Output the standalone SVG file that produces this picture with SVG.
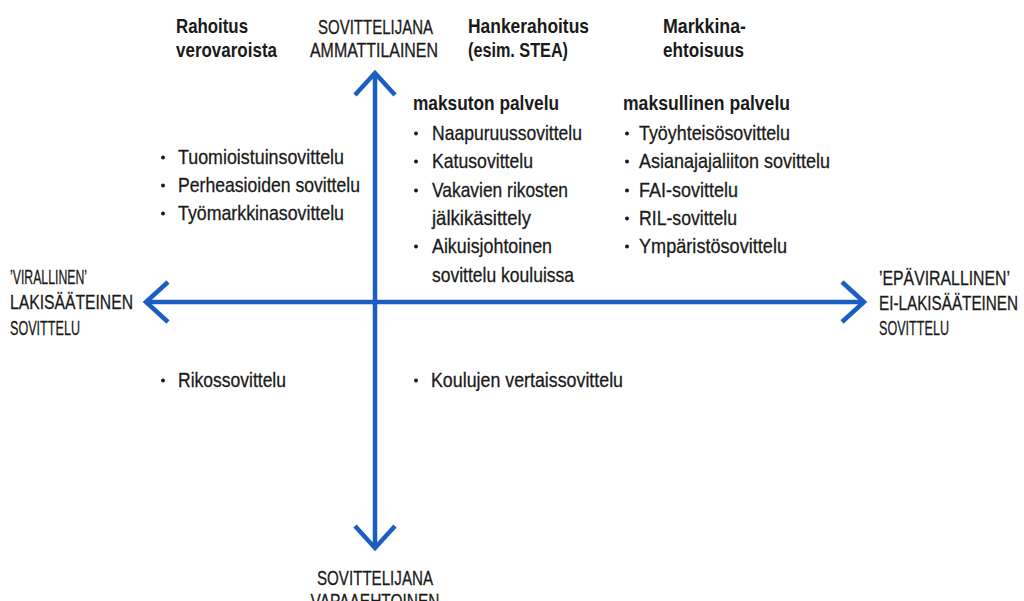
<svg xmlns="http://www.w3.org/2000/svg" width="1024" height="601" viewBox="0 0 1024 601">
<defs>
<style>
text{font-family:"Liberation Sans",Arial,sans-serif;font-size:21px;fill:#1a1a1a;stroke:#1a1a1a;stroke-width:0.3px}
.b{font-weight:bold;stroke-width:0}
.cap{font-size:20.5px}
.mid{text-anchor:middle}
.dot{fill:#1a1a1a}
.axis{stroke:#1B5EC2;stroke-width:4.5;fill:none}
</style>
<marker id="chev" markerUnits="userSpaceOnUse" viewBox="-30 -30 40 60" refX="0" refY="0" markerWidth="40" markerHeight="60" orient="auto-start-reverse">
<path d="M-22,-20 L0,0 L-22,20" fill="none" stroke="#1B5EC2" stroke-width="4.5" stroke-linejoin="miter"/>
</marker>
</defs>
<rect width="1024" height="601" fill="#ffffff"/>
<g id="connectors">
<line class="axis" x1="146" y1="302" x2="864" y2="302" marker-start="url(#chev)" marker-end="url(#chev)"/>
<line class="axis" x1="375" y1="73" x2="375" y2="548" marker-start="url(#chev)" marker-end="url(#chev)"/>
</g>
<g id="rahoitus-verovaroista">
<text class="b" x="176" y="33" textLength="72" lengthAdjust="spacingAndGlyphs">Rahoitus</text>
<text class="b" x="176" y="57" textLength="101" lengthAdjust="spacingAndGlyphs">verovaroista</text>
</g>
<g id="ammattilainen">
<text class="cap mid" x="375.5" y="34" textLength="115" lengthAdjust="spacingAndGlyphs">SOVITTELIJANA</text>
<text class="cap mid" x="374" y="57" textLength="128" lengthAdjust="spacingAndGlyphs">AMMATTILAINEN</text>
</g>
<g id="hankerahoitus">
<text class="b" x="468" y="33" textLength="121" lengthAdjust="spacingAndGlyphs">Hankerahoitus</text>
<text class="b" x="468" y="57" textLength="100" lengthAdjust="spacingAndGlyphs">(esim. STEA)</text>
</g>
<g id="markkinaehtoisuus">
<text class="b" x="663" y="33" textLength="83" lengthAdjust="spacingAndGlyphs">Markkina-</text>
<text class="b" x="663" y="57" textLength="81" lengthAdjust="spacingAndGlyphs">ehtoisuus</text>
</g>
<g id="virallinen">
<text class="cap" x="10" y="284" textLength="77" lengthAdjust="spacingAndGlyphs">’VIRALLINEN’</text>
<text class="cap" x="10" y="309" textLength="123" lengthAdjust="spacingAndGlyphs">LAKISÄÄTEINEN</text>
<text class="cap" x="10" y="335" textLength="70" lengthAdjust="spacingAndGlyphs">SOVITTELU</text>
</g>
<g id="epavirallinen">
<text class="cap" x="879" y="285" textLength="131" lengthAdjust="spacingAndGlyphs">’EPÄVIRALLINEN’</text>
<text class="cap" x="879" y="310" textLength="139" lengthAdjust="spacingAndGlyphs">EI-LAKISÄÄTEINEN</text>
<text class="cap" x="879" y="335" textLength="70" lengthAdjust="spacingAndGlyphs">SOVITTELU</text>
</g>
<g id="vapaaehtoinen">
<text class="cap mid" x="375" y="585" textLength="116" lengthAdjust="spacingAndGlyphs">SOVITTELIJANA</text>
<text class="cap mid" x="375" y="608" textLength="129" lengthAdjust="spacingAndGlyphs">VAPAAEHTOINEN</text>
</g>
<g id="virallinen-maksuton">
<circle class="dot" cx="163" cy="157.5" r="2"/>
<text x="178" y="164" textLength="166" lengthAdjust="spacingAndGlyphs">Tuomioistuinsovittelu</text>
<circle class="dot" cx="163" cy="185.5" r="2"/>
<text x="178" y="192" textLength="182" lengthAdjust="spacingAndGlyphs">Perheasioiden sovittelu</text>
<circle class="dot" cx="163" cy="213.5" r="2"/>
<text x="178" y="220" textLength="166" lengthAdjust="spacingAndGlyphs">Työmarkkinasovittelu</text>
</g>
<g id="maksuton-palvelu">
<text class="b" x="413" y="110" textLength="146" lengthAdjust="spacingAndGlyphs">maksuton palvelu</text>
<circle class="dot" cx="416" cy="133.5" r="2"/>
<text x="432" y="140" textLength="150" lengthAdjust="spacingAndGlyphs">Naapuruussovittelu</text>
<circle class="dot" cx="416" cy="161.5" r="2"/>
<text x="432" y="168" textLength="101" lengthAdjust="spacingAndGlyphs">Katusovittelu</text>
<circle class="dot" cx="416" cy="190.5" r="2"/>
<text x="432" y="197" textLength="136" lengthAdjust="spacingAndGlyphs">Vakavien rikosten</text>
<text x="432" y="225" textLength="99" lengthAdjust="spacingAndGlyphs">jälkikäsittely</text>
<circle class="dot" cx="416" cy="246.5" r="2"/>
<text x="432" y="253" textLength="120" lengthAdjust="spacingAndGlyphs">Aikuisjohtoinen</text>
<text x="432" y="282" textLength="142" lengthAdjust="spacingAndGlyphs">sovittelu kouluissa</text>
</g>
<g id="maksullinen-palvelu">
<text class="b" x="623" y="110" textLength="167" lengthAdjust="spacingAndGlyphs">maksullinen palvelu</text>
<circle class="dot" cx="627" cy="133.5" r="2"/>
<text x="639" y="140" textLength="151" lengthAdjust="spacingAndGlyphs">Työyhteisösovittelu</text>
<circle class="dot" cx="627" cy="161.5" r="2"/>
<text x="639" y="168" textLength="191" lengthAdjust="spacingAndGlyphs">Asianajajaliiton sovittelu</text>
<circle class="dot" cx="627" cy="190.5" r="2"/>
<text x="639" y="197" textLength="99" lengthAdjust="spacingAndGlyphs">FAI-sovittelu</text>
<circle class="dot" cx="627" cy="218.5" r="2"/>
<text x="639" y="225" textLength="98" lengthAdjust="spacingAndGlyphs">RIL-sovittelu</text>
<circle class="dot" cx="627" cy="246.5" r="2"/>
<text x="639" y="253" textLength="148" lengthAdjust="spacingAndGlyphs">Ympäristösovittelu</text>
</g>
<g id="rikossovittelu">
<circle class="dot" cx="163" cy="380.5" r="2"/>
<text x="178" y="387" textLength="108" lengthAdjust="spacingAndGlyphs">Rikossovittelu</text>
</g>
<g id="vertaissovittelu">
<circle class="dot" cx="416" cy="380.5" r="2"/>
<text x="431" y="387" textLength="192" lengthAdjust="spacingAndGlyphs">Koulujen vertaissovittelu</text>
</g>
</svg>
